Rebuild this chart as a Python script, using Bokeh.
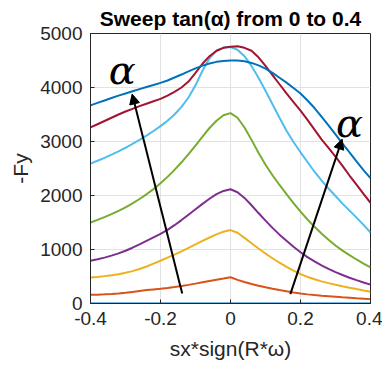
from bokeh.plotting import figure
from bokeh.models import Arrow, NormalHead, FixedTicker, Range1d
from bokeh.core.properties import value
from bokeh.embed import file_html
from bokeh.resources import INLINE

# slip samples (sx * sign(R*omega))
slip = [-0.40, -0.38, -0.36, -0.34, -0.32, -0.30, -0.28, -0.26, -0.24, -0.22,
        -0.20, -0.18, -0.16, -0.14, -0.12, -0.10, -0.08, -0.06, -0.04, -0.02,
        0.00, 0.02, 0.04, 0.06, 0.08, 0.10, 0.12, 0.14, 0.16, 0.18,
        0.20, 0.22, 0.24, 0.26, 0.28, 0.30, 0.32, 0.34, 0.36, 0.38, 0.40]

# lateral force -Fy, one series per tan(alpha) step from 0 to 0.4
fy_a0 = [0] * len(slip)
fy_a1 = [160, 164, 170, 177, 185, 198, 215, 232, 248, 260,
         272, 288, 305, 325, 345, 368, 393, 417, 440, 462,
         485, 438, 398, 362, 330, 301, 275, 250, 226, 204,
         185, 169, 156, 145, 135, 125, 115, 106, 97, 89, 81]
fy_a2 = [480, 492, 507, 523, 543, 568, 600, 638, 685, 738,
         791, 848, 905, 965, 1030, 1095, 1160, 1222, 1280, 1330,
         1360, 1310, 1215, 1115, 1018, 925, 838, 755, 678, 608,
         545, 492, 448, 410, 377, 348, 320, 293, 267, 242, 218]
fy_a3 = [790, 818, 850, 886, 928, 977, 1033, 1095, 1160, 1225,
         1290, 1365, 1450, 1545, 1645, 1745, 1845, 1940, 2025, 2085,
         2115, 2060, 1955, 1820, 1675, 1535, 1400, 1275, 1160, 1050,
         950, 860, 780, 708, 642, 582, 527, 477, 432, 390, 350]
fy_a4 = [1500, 1548, 1600, 1656, 1716, 1782, 1855, 1935, 2022, 2118,
         2225, 2345, 2475, 2615, 2765, 2925, 3090, 3250, 3385, 3485,
         3525, 3440, 3260, 3030, 2790, 2570, 2375, 2195, 2025, 1860,
         1700, 1555, 1420, 1295, 1180, 1075, 980, 895, 815, 740, 670]
fy_a5 = [2590, 2643, 2698, 2756, 2818, 2884, 2955, 3030, 3110, 3195,
         3285, 3385, 3500, 3640, 3815, 4040, 4310, 4540, 4680, 4740,
         4750, 4700, 4580, 4400, 4180, 3940, 3690, 3440, 3200, 2990,
         2800, 2620, 2440, 2280, 2130, 1990, 1850, 1720, 1590, 1455, 1315]
fy_a6 = [3260, 3320, 3380, 3440, 3500, 3555, 3605, 3655, 3700, 3745,
         3790, 3850, 3920, 4000, 4110, 4270, 4440, 4580, 4680, 4735,
         4755, 4762, 4735, 4680, 4560, 4400, 4230, 4060, 3890, 3730,
         3570, 3400, 3220, 3040, 2880, 2720, 2550, 2370, 2200, 2030, 1865]
fy_a7 = [3670, 3715, 3760, 3805, 3850, 3890, 3930, 3970, 4010, 4045,
         4085, 4130, 4185, 4240, 4300, 4355, 4405, 4445, 4475, 4492,
         4500, 4500, 4485, 4455, 4410, 4350, 4270, 4180, 4090, 3990,
         3890, 3760, 3620, 3460, 3300, 3130, 2960, 2800, 2630, 2470, 2320]

series = [fy_a0, fy_a1, fy_a2, fy_a3, fy_a4, fy_a5, fy_a6, fy_a7]
colors = ["#0072bd", "#d95319", "#edb120", "#7e2f8e",
          "#77ac30", "#4dbeee", "#a2142f", "#0072bd"]

x_ticks = [-0.4, -0.2, 0.0, 0.2, 0.4]
x_tick_labels = ["-0.4", "-0.2", "0", "0.2", "0.4"]
y_ticks = [0, 1000, 2000, 3000, 4000, 5000]

# arrows showing the direction of increasing alpha
left_arrow = dict(x_start=-0.138, y_start=185, x_end=-0.281, y_end=3878)
right_arrow = dict(x_start=0.171, y_start=174, x_end=0.319, y_end=3044)
alpha_marks_x = [-0.309, 0.34]
alpha_marks_y = [4320, 3340]

FONT = "Liberation Sans"
INK = "#262626"

p = figure(width=382, height=367, output_backend="svg", toolbar_location=None,
           x_range=Range1d(-0.4, 0.4), y_range=Range1d(0, 5000),
           min_border_left=90, min_border_right=12,
           min_border_top=33, min_border_bottom=64,
           title="Sweep tan(α) from 0 to 0.4")

p.title.text_font = FONT
p.title.text_font_size = "21px"
p.title.text_font_style = "bold"
p.title.text_color = "black"
p.title.align = "center"
p.title.standoff = 7

p.background_fill_color = "white"
p.border_fill_color = "white"
p.outline_line_color = INK
p.outline_line_width = 1

for ax in (p.xaxis[0], p.yaxis[0]):
    ax.major_label_text_font = FONT
    ax.major_label_text_font_size = "19px"
    ax.major_label_text_color = INK
    ax.axis_label_text_font = FONT
    ax.axis_label_text_font_size = "21px"
    ax.axis_label_text_font_style = "normal"
    ax.axis_label_text_color = INK
    ax.axis_line_color = INK
    ax.major_tick_line_color = INK
    ax.major_tick_in = 4
    ax.major_tick_out = 0
    ax.minor_tick_line_color = None
    ax.major_label_standoff = 8

p.xaxis[0].ticker = FixedTicker(ticks=x_ticks)
p.xaxis[0].major_label_overrides = {t: s for t, s in zip(x_ticks, x_tick_labels)}
p.xaxis[0].axis_label_standoff = 9
p.yaxis[0].ticker = FixedTicker(ticks=y_ticks)
p.xaxis[0].axis_label = "sx*sign(R*ω)"
p.yaxis[0].axis_label = "-Fy"

p.xgrid.ticker = FixedTicker(ticks=x_ticks)
p.ygrid.ticker = FixedTicker(ticks=y_ticks)
p.grid.grid_line_color = "#e2e2e2"
p.grid.grid_line_width = 1

for fy, c in zip(series, colors):
    p.line(slip, fy, line_color=c, line_width=2)

for spec in (left_arrow, right_arrow):
    p.add_layout(Arrow(end=NormalHead(size=10, fill_color="black", line_color="black"),
                       line_color="black", line_width=2, **spec))

p.text(x=alpha_marks_x, y=alpha_marks_y, text=["α", "α"],
       text_font=value("DejaVu Serif"), text_font_style="italic",
       text_font_size="40px", text_align="center", text_baseline="alphabetic",
       text_color="black")

open("out.html", "w").write(file_html(p, INLINE))
